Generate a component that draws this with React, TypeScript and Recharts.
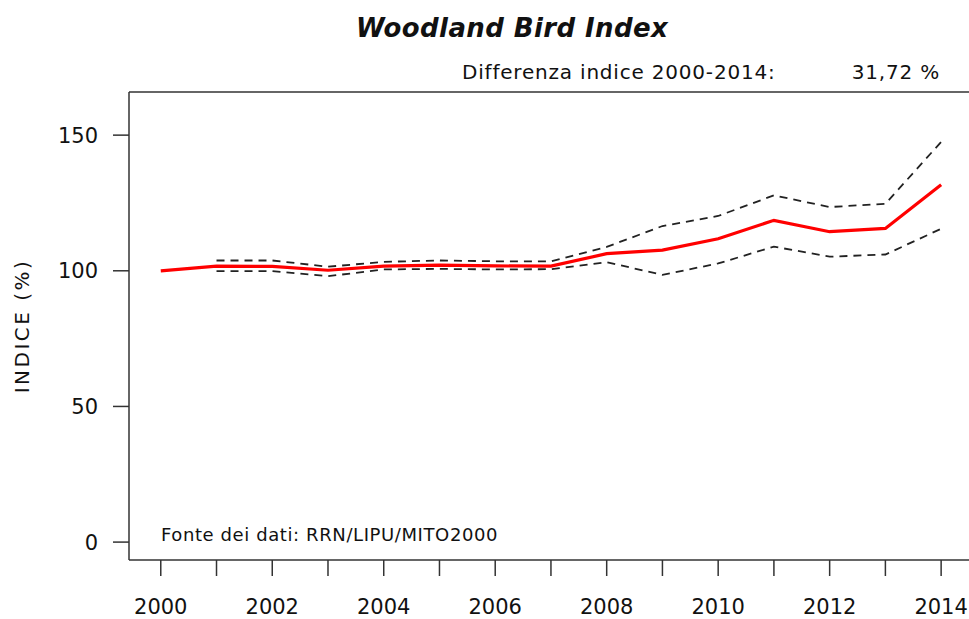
import React from 'react';
import { LineChart, Line, XAxis, YAxis, ReferenceLine } from 'recharts';

const years = [2000, 2001, 2002, 2003, 2004, 2005, 2006, 2007, 2008, 2009, 2010, 2011, 2012, 2013, 2014];
const indexValues = [100, 101.7, 101.6, 100.2, 101.7, 102.1, 101.8, 101.7, 106.3, 107.6, 111.8, 118.6, 114.4, 115.6, 131.72];
const upperCI = [null, 103.8, 103.8, 101.5, 103.3, 103.8, 103.5, 103.5, 108.8, 116.5, 120.2, 127.8, 123.5, 124.7, 147.5];
const lowerCI = [null, 99.9, 99.9, 98.0, 100.5, 100.7, 100.5, 100.6, 103.2, 98.5, 102.7, 108.9, 105.2, 106.0, 115.5];
const yTicks = [0, 50, 100, 150];

const title = 'Woodland Bird Index';
const diffLabel = 'Differenza indice 2000-2014:';
const diffValue = '31,72 %';
const yLabel = 'INDICE (%)';
const source = 'Fonte dei dati: RRN/LIPU/MITO2000';

const X_DOMAIN: [number, number] = [1999.43, 2014.5];
const Y_DOMAIN: [number, number] = [-6.6, 165.9];

const data = years.map((year, i) => ({
  year,
  index: indexValues[i],
  upper: upperCI[i],
  lower: lowerCI[i],
}));

const FONT = '"DejaVu Sans", Verdana, sans-serif';
const AXIS = '#333';

export default function App() {
  return (
    <div style={{ position: 'absolute', left: 0, top: 0, width: 969, height: 619, background: '#fff', fontFamily: FONT, color: '#111', overflow: 'hidden' }}>
      <LineChart width={969} height={619} data={data} margin={{ top: 92, right: 0, left: 0, bottom: 0 }}>
        <XAxis
          dataKey="year"
          type="number"
          domain={X_DOMAIN}
          ticks={years}
          allowDataOverflow
          tickFormatter={(v: number) => (v % 2 === 0 ? String(v) : '')}
          height={59}
          tickSize={16}
          tickMargin={23}
          stroke={AXIS}
          strokeWidth={1.5}
          tick={{ fill: '#111', fontSize: 21, fontFamily: FONT }}
        />
        <YAxis
          type="number"
          domain={Y_DOMAIN}
          ticks={yTicks}
          allowDataOverflow
          width={129}
          tickSize={16}
          tickMargin={15}
          stroke={AXIS}
          strokeWidth={1.5}
          tick={{ fill: '#111', fontSize: 21, fontFamily: FONT }}
        />
        <ReferenceLine y={Y_DOMAIN[1]} stroke={AXIS} strokeWidth={1.5} ifOverflow="visible" />
        <Line dataKey="upper" stroke="#222" strokeWidth={1.8} strokeDasharray="8 6" dot={false} isAnimationActive={false} connectNulls={false} />
        <Line dataKey="lower" stroke="#222" strokeWidth={1.8} strokeDasharray="8 6" dot={false} isAnimationActive={false} connectNulls={false} />
        <Line dataKey="index" stroke="#ff0000" strokeWidth={3.2} dot={false} isAnimationActive={false} />
      </LineChart>
      <div style={{ position: 'absolute', left: 512, top: 15, transform: 'translateX(-50%)', fontSize: 26, letterSpacing: 0.4, fontWeight: 'bold', fontStyle: 'italic', lineHeight: 1, whiteSpace: 'nowrap' }}>{title}</div>
      <div style={{ position: 'absolute', left: 462, top: 62, fontSize: 20, letterSpacing: 0.8, lineHeight: 1, whiteSpace: 'nowrap' }}>{diffLabel}</div>
      <div style={{ position: 'absolute', right: 969 - 940, top: 62, fontSize: 20, letterSpacing: 0.8, lineHeight: 1, whiteSpace: 'nowrap' }}>{diffValue}</div>
      <div style={{ position: 'absolute', left: 161, top: 526, fontSize: 18, letterSpacing: 0.6, lineHeight: 1, whiteSpace: 'nowrap' }}>{source}</div>
      <div style={{ position: 'absolute', left: 22, top: 326, transform: 'translate(-50%, -50%) rotate(-90deg)', fontSize: 20, letterSpacing: 2.5, lineHeight: 1, whiteSpace: 'nowrap' }}>{yLabel}</div>
    </div>
  );
}
